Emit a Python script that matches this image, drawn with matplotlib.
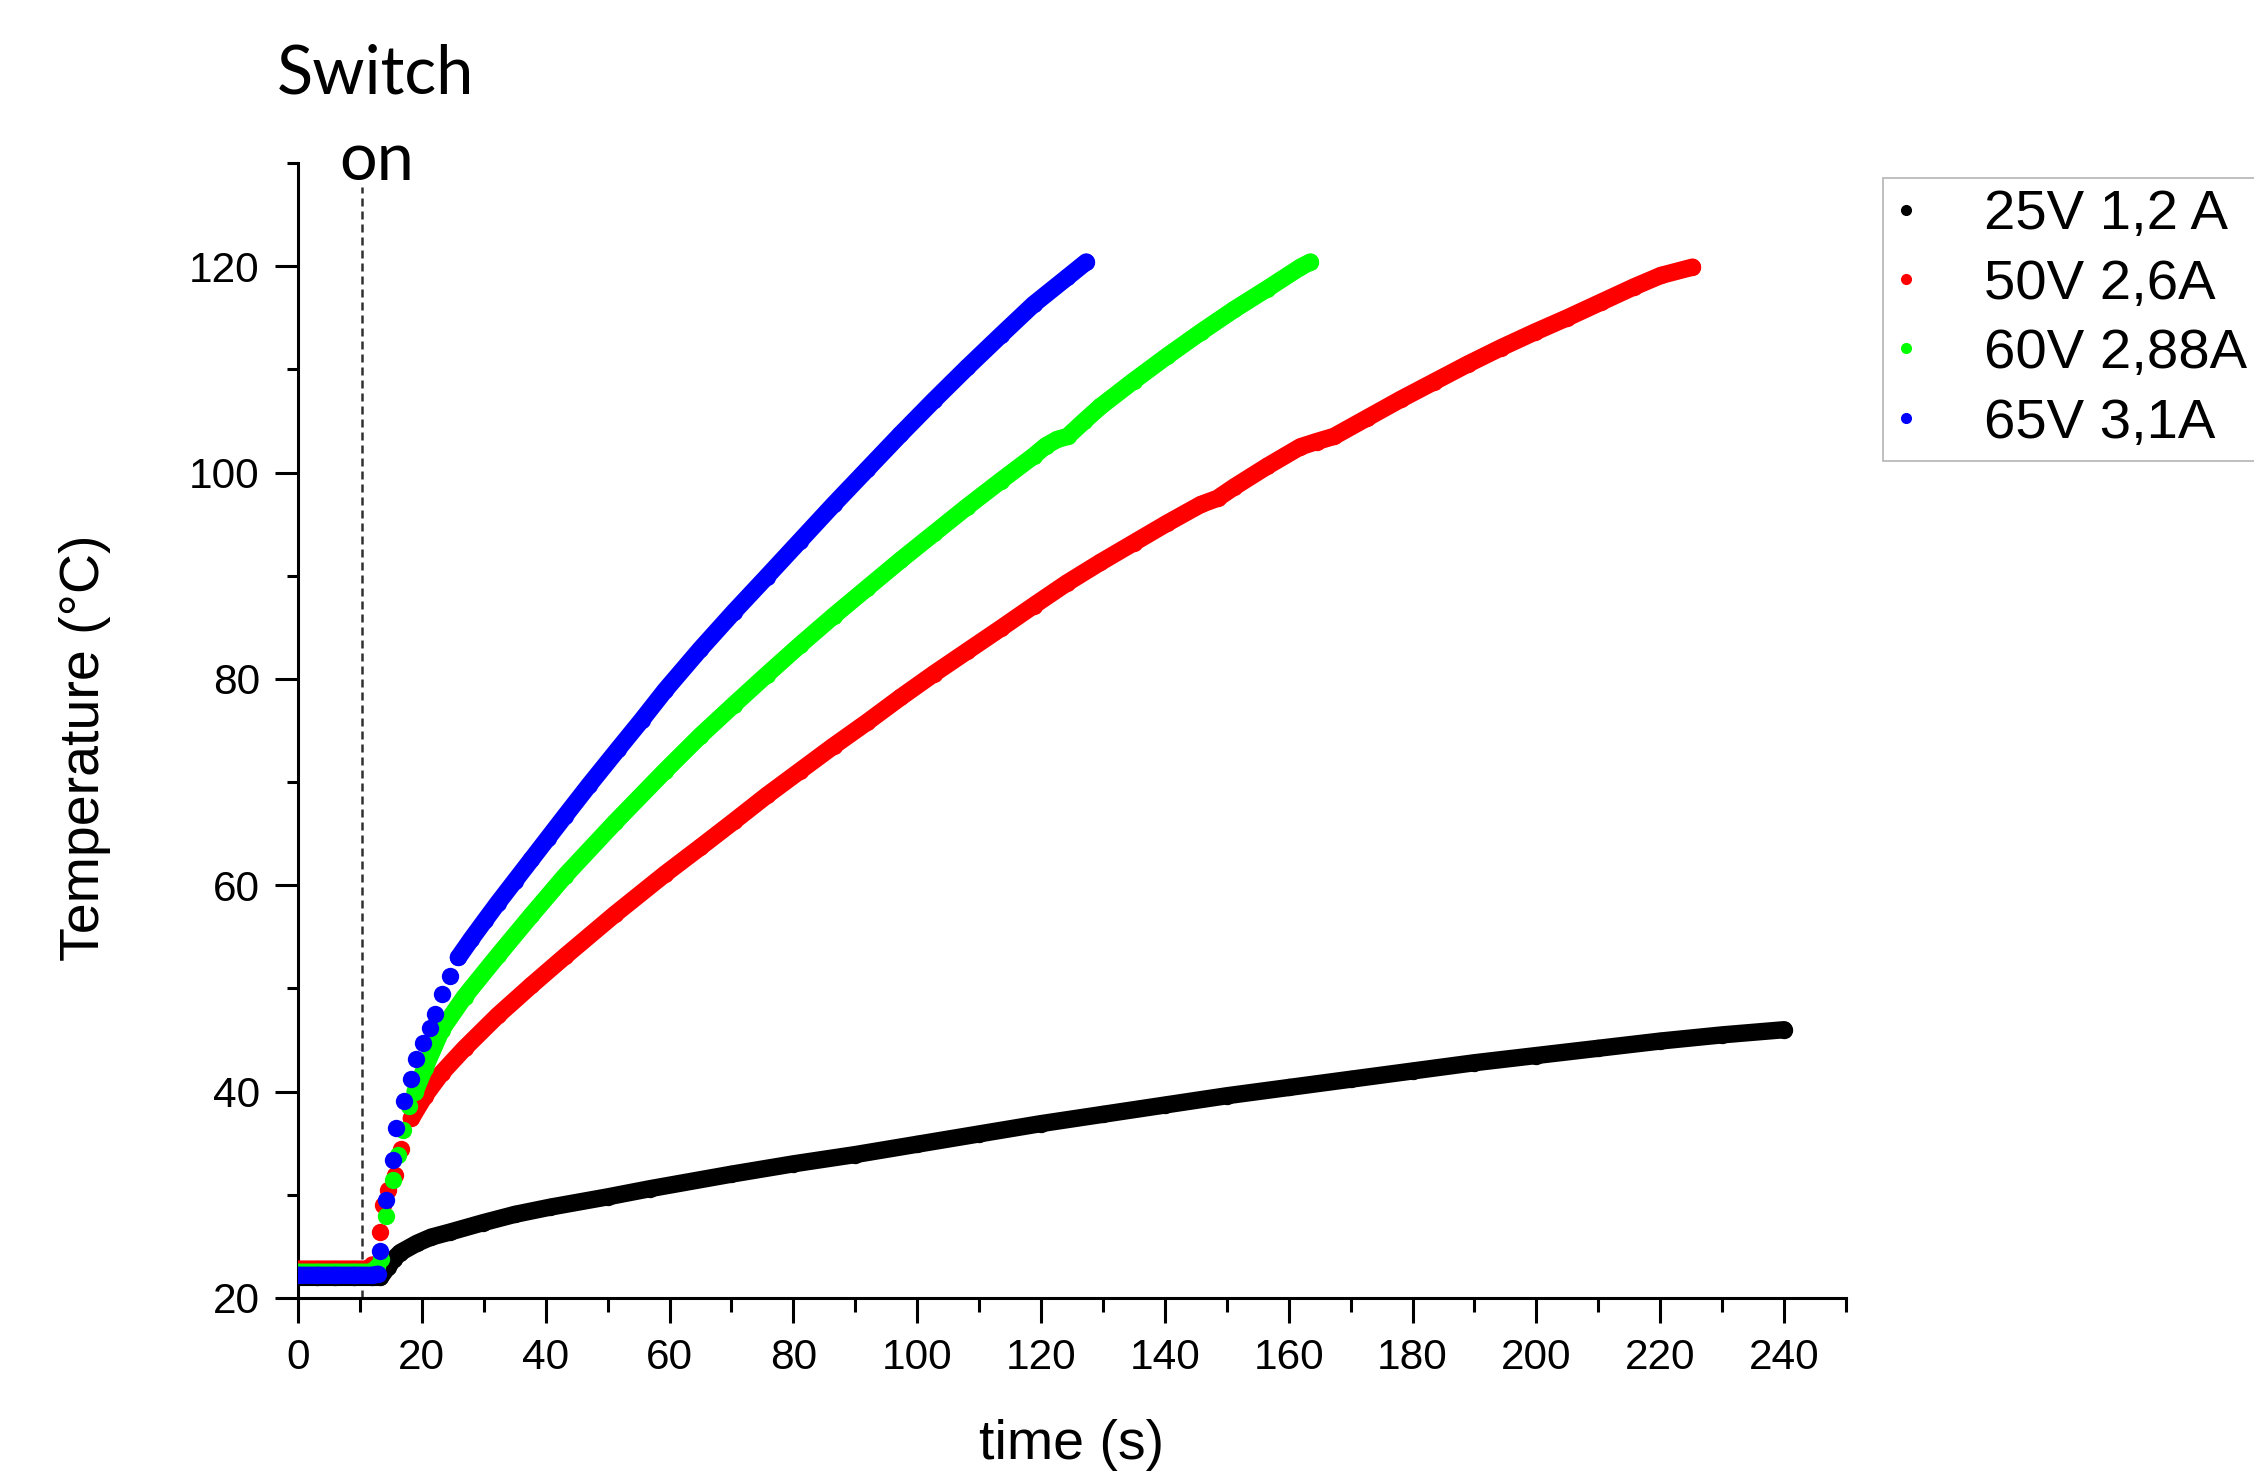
import numpy as np
import matplotlib.pyplot as plt
from matplotlib.lines import Line2D
from matplotlib.ticker import MultipleLocator

plt.rcParams['font.family'] = ['Liberation Sans', 'DejaVu Sans']

# values: time (s) / temperature (°C)
t_25v = [0, 3, 6, 9, 12, 13.3, 14.5, 15.5, 16.5, 19.2, 21.5, 24.6, 29.9, 35, 40.7, 50, 56.9,
         70, 80, 90, 100, 110, 120, 130, 140, 150, 160, 170, 180, 190, 200, 210, 220, 230, 240]
T_25v = [22.0, 22.0, 22.0, 22.0, 22.0, 22.0, 23.0, 23.8, 24.4, 25.3, 25.9, 26.4, 27.3, 28.1,
         28.8, 29.8, 30.6, 32.0, 33.0, 33.9, 34.9, 35.9, 36.9, 37.8, 38.7, 39.6, 40.4, 41.2,
         42.0, 42.8, 43.5, 44.2, 44.9, 45.5, 46.0]

t_50v = [0, 3, 6, 9, 11.5, 12.0, 13.2, 13.8, 14.6, 15.6, 16.7, 18.3, 20.5, 23.2, 26.9, 32.3,
         37.7, 43.1, 51.2, 59.3, 65.0, 70.4, 75.7, 81.1, 86.5, 91.9, 97.3, 102.7, 108.1, 113.5,
         118.8, 124.2, 129.6, 135.0, 140.4, 145.8, 148.5, 151.2, 156.5, 161.9, 164.5, 167.3,
         172.7, 178.1, 183.5, 188.9, 194.3, 199.7, 205.0, 210.4, 215.8, 220.1, 225.2]
T_50v = [22.8, 22.8, 22.8, 22.8, 22.8, 23.2, 26.4, 29.0, 30.5, 31.9, 34.4, 37.4, 39.6, 41.8,
         44.2, 47.4, 50.3, 53.1, 57.2, 61.1, 63.7, 66.2, 68.7, 71.1, 73.5, 75.8, 78.2, 80.5,
         82.7, 84.9, 87.1, 89.3, 91.3, 93.2, 95.1, 96.9, 97.5, 98.6, 100.6, 102.5, 103.0, 103.5,
         105.3, 107.1, 108.8, 110.5, 112.1, 113.6, 115.0, 116.5, 118.0, 119.1, 119.9]

t_60v = [0, 3, 6, 9, 12, 12.8, 13.4, 14.2, 15.3, 16.2, 17.0, 18.0, 18.9, 20.5, 23.2, 26.9,
         32.3, 37.7, 43.1, 51.2, 59.3, 65.0, 70.4, 75.7, 81.1, 86.5, 91.9, 97.3, 102.7, 108.1,
         113.5, 118.8, 120.8, 122.6, 124.3, 127.0, 129.6, 135.0, 140.4, 145.8, 151.2, 156.5,
         161.9, 163.5]
T_60v = [22.5, 22.5, 22.5, 22.5, 22.5, 23.0, 23.8, 27.9, 31.4, 33.9, 36.3, 38.6, 40.0, 42.3,
         46.0, 49.2, 53.2, 57.1, 60.9, 66.1, 71.1, 74.5, 77.5, 80.4, 83.3, 86.1, 88.8, 91.5,
         94.1, 96.7, 99.2, 101.6, 102.6, 103.2, 103.5, 105.0, 106.4, 108.9, 111.3, 113.6,
         115.8, 117.8, 119.9, 120.4]

t_65v = [0, 3, 6, 9, 12, 12.9, 13.2, 14.2, 15.3, 15.9, 17.2, 18.2, 19.1, 20.2, 21.3, 22.1,
         23.2, 24.5, 25.9, 28.0, 30.2, 32.3, 35.0, 37.7, 40.4, 43.1, 47.0, 51.7, 55.5, 59.3,
         65.0, 70.4, 75.7, 81.1, 86.5, 91.9, 97.3, 102.7, 108.1, 113.5, 118.8, 124.2, 127.3]
T_65v = [22.2, 22.2, 22.2, 22.2, 22.2, 22.3, 24.6, 29.5, 33.4, 36.5, 39.1, 41.2, 43.2, 44.7,
         46.2, 47.5, 49.5, 51.2, 53.0, 54.8, 56.6, 58.3, 60.4, 62.5, 64.6, 66.7, 69.7, 73.2,
         76.0, 78.9, 82.9, 86.5, 89.9, 93.4, 96.9, 100.3, 103.7, 107.0, 110.2, 113.3, 116.3,
         118.9, 120.4]

labels = ['25V 1,2 A', '50V 2,6A', '60V 2,88A', '65V 3,1A']
colors = ['#000000', '#ff0000', '#00ff00', '#0000ff']
t_switch = 10.4

# where the sampled points are close enough to merge into a band
flat_end = [240, 12.0, 12.8, 12.9]
dense_start = [0, 17.0, 18.5, 25.0]

fig = plt.figure(figsize=(22.54, 14.76), dpi=100)
ax = fig.add_axes([0.1322, 0.1206, 0.6868, 0.769])

series = [(t_25v, T_25v), (t_50v, T_50v), (t_60v, T_60v), (t_65v, T_65v)]
for i, (t, T) in enumerate(series):
    t = np.array(t)
    T = np.array(T)
    mask = (t <= flat_end[i]) | (t >= dense_start[i])
    ax.plot(t, np.where(mask, T, np.nan), '-', color=colors[i], lw=12.5,
            solid_capstyle='round', solid_joinstyle='round', zorder=3 + i)
    ax.plot(t, T, 'o', color=colors[i], ms=12.5, mew=0, zorder=3 + i)

ax.plot([t_switch, t_switch], [20, 127.7], color='#303030', lw=1.8,
        ls=(0, (3.2, 2.0)), zorder=2)

ax.set_xlim(0, 250)
ax.set_ylim(20, 130)
ax.xaxis.set_major_locator(MultipleLocator(20))
ax.xaxis.set_minor_locator(MultipleLocator(10))
ax.yaxis.set_major_locator(MultipleLocator(20))
ax.yaxis.set_minor_locator(MultipleLocator(10))

for s in ['top', 'right']:
    ax.spines[s].set_visible(False)
for s in ['left', 'bottom']:
    ax.spines[s].set_linewidth(2.2)

ax.tick_params(axis='both', which='both', direction='out', width=2.2, labelsize=30.5)
ax.tick_params(axis='x', which='major', length=18, pad=11)
ax.tick_params(axis='x', which='minor', length=10)
ax.tick_params(axis='y', which='major', length=16.5, pad=11)
ax.tick_params(axis='y', which='minor', length=8)

ax.set_xlabel('time (s)', fontsize=40)
ax.set_ylabel('Temperature (°C)', fontsize=40)
ax.xaxis.set_label_coords(0.5, -0.107)
ax.yaxis.set_label_coords(-0.121, 0.485)

fig.text(375 / 2254, 1 - 93 / 1476, 'Switch', family='Lato', fontsize=48,
         ha='center', va='baseline')
fig.text(377 / 2254, 1 - 180 / 1476, 'on', family='Lato', fontsize=48,
         ha='center', va='baseline')

handles = [Line2D([], [], ls='none', marker='o', ms=8, mew=0, color=c) for c in colors]
leg = fig.legend(handles, labels, loc='upper left', bbox_to_anchor=(1883 / 2254, 1 - 178 / 1476),
                 fontsize=40.5, frameon=True, fancybox=False, edgecolor='#b4b4b4',
                 framealpha=1, borderaxespad=0, borderpad=0.2, labelspacing=0.31,
                 handlelength=0.4, handletextpad=1.2)
leg.get_frame().set_linewidth(1.2)

fig.savefig('out.png', dpi=100)
